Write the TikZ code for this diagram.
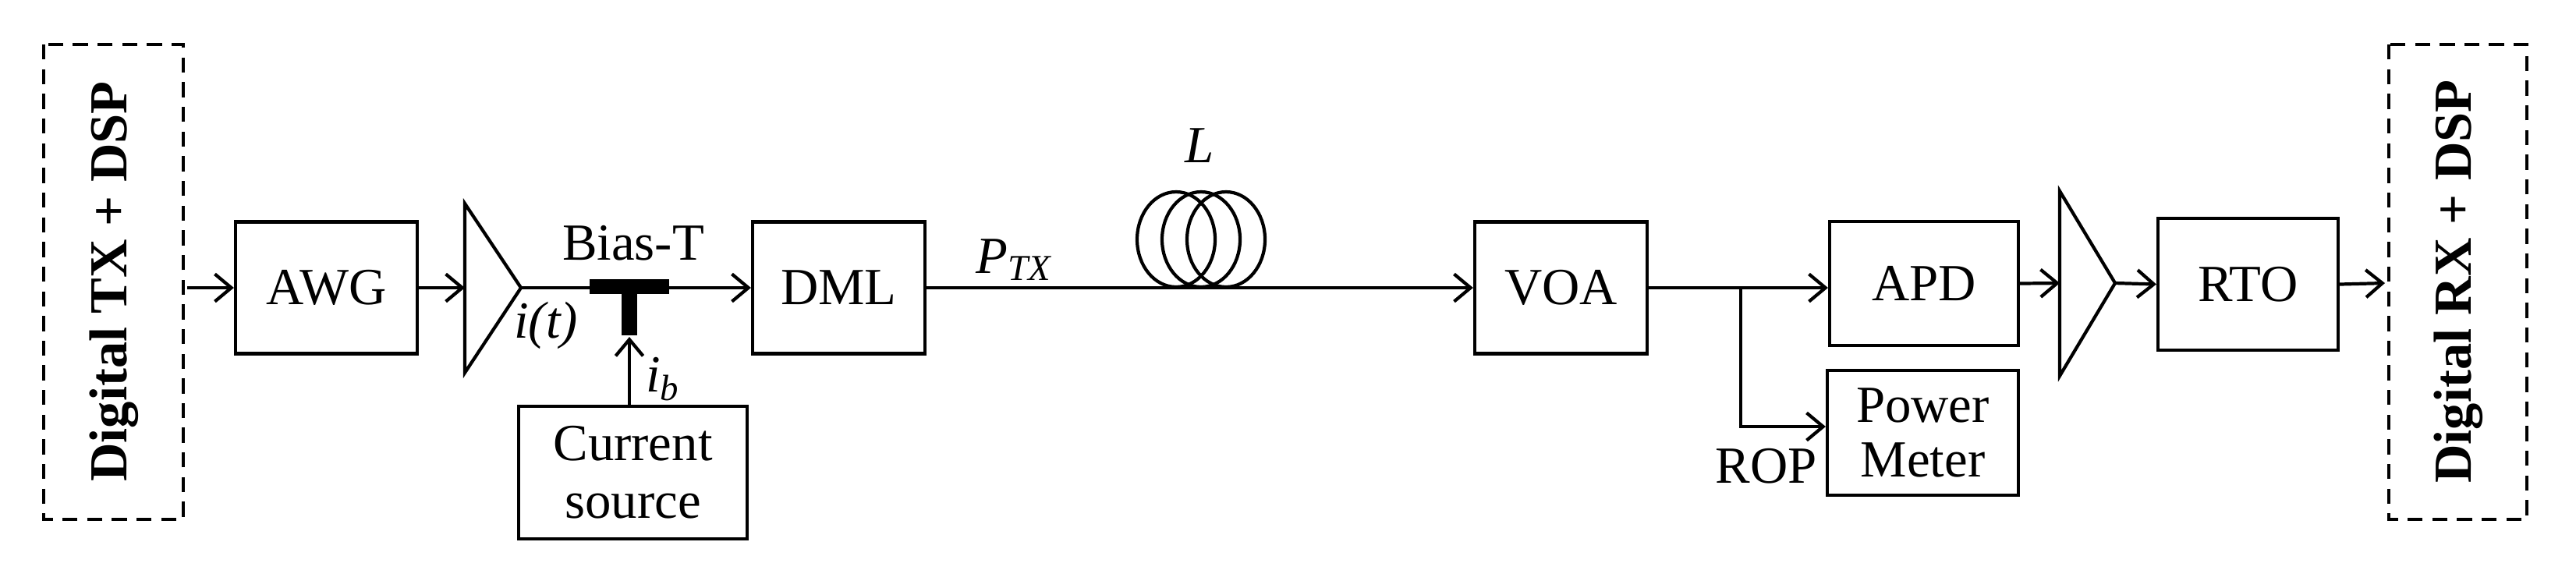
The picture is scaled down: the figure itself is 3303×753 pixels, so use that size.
\documentclass[tikz,border=0pt]{standalone}
\usepackage{fontspec}
\setmainfont{Liberation Serif}
\usetikzlibrary{arrows.meta}
\begin{document}
\begin{tikzpicture}[x=0.01cm,y=-0.01cm,line width=1.2pt,
  box/.style={draw,inner sep=0,font=\fontsize{19}{21}\selectfont},
  dbox/.style={draw,dash pattern=on 5.5pt off 3.5pt},
  arr/.style={-{Straight Barb[length=6pt,width=10pt,line width=1.2pt]}},
  lbl/.style={font=\fontsize{19}{21}\selectfont,inner sep=0},
  big/.style={font=\fontsize{19.5}{22}\selectfont\bfseries,rotate=90,inner sep=0}]
\path[use as bounding box] (0,0) rectangle (3303,753);
% dashed boxes
\draw[dbox] (56,57) rectangle (235,666);
\node[big] (tx) at (146,361) {Digital TX + DSP};
\coordinate (txr) at (240,369);
\draw[dbox] (3063,57) rectangle (3240,666);
\node[big] (rx) at (3152,361) {Digital RX + DSP};
\coordinate (rxl) at (3058,363);
% boxes
\node[box,minimum width=233*0.01cm,minimum height=169*0.01cm] (awg) at (418.5,369) {AWG};
\node[box,minimum width=221*0.01cm,minimum height=169*0.01cm] (dml) at (1075.5,369) {DML};
\node[box,minimum width=221*0.01cm,minimum height=169*0.01cm] (voa) at (2001.5,369) {VOA};
\node[box,minimum width=242*0.01cm,minimum height=159*0.01cm] (apd) at (2467,363.5) {APD};
\node[box,minimum width=245*0.01cm,minimum height=160*0.01cm,align=center] (pm) at (2465.5,555) {Power\\[-1pt]Meter};
\node[box,minimum width=231*0.01cm,minimum height=169*0.01cm] (rto) at (2882.5,364.5) {RTO};
\node[box,minimum width=293*0.01cm,minimum height=170*0.01cm,align=center] (cs) at (811.5,606) {Current\\[0pt]source};
% amplifiers
\draw (596,261) -- (668,369) coordinate (a1tip) -- (596,478) -- cycle;
\coordinate (a1in) at (596,369);
\draw (2641,245) -- (2712,363) coordinate (a2tip) -- (2641,482) -- cycle;
\coordinate (a2in) at (2641,363);
% connectors
\draw[arr] (txr) -- (awg.west);
\draw[arr] (awg.east) -- (a1in);
\draw[arr] (a1tip) -- (dml.west);
\fill (756,358) rectangle (858,377);
\fill (797,377) rectangle (817,430);
\coordinate (bt) at (807,432);
\draw[arr] (cs.north -| bt) -- (bt);
\node[lbl] (biast) at (812,312) {Bias-T};
\node[lbl] (it) at (700,417) {\itshape i(t)};
\node[lbl] (ib) at (850,486) {\itshape i\textsubscript{b}};
% fiber
\draw[arr] (dml.east) -- (voa.west);
\foreach \cx in {1508,1540,1572}
  \draw (\cx,307) ellipse [x radius=50, y radius=61];
\node[lbl] (L) at (1538,187) {\itshape L};
\node[lbl] (ptx) at (1300,333) {\itshape P\textsubscript{TX}};
% receiver side
\coordinate (br) at (2232,369);
\draw[arr] (voa.east) -- (apd.west |- br);
\draw[arr] (br) -- (2232,547) -- (pm.west |- 0,547);
\node[lbl,anchor=east] (rop) at (2332,598) {ROP};
\draw[arr] (apd.east) -- (a2in);
\draw[arr] (a2tip) -- (rto.west);
\draw[arr] (rto.east) -- (rxl);
\end{tikzpicture}
\end{document}
